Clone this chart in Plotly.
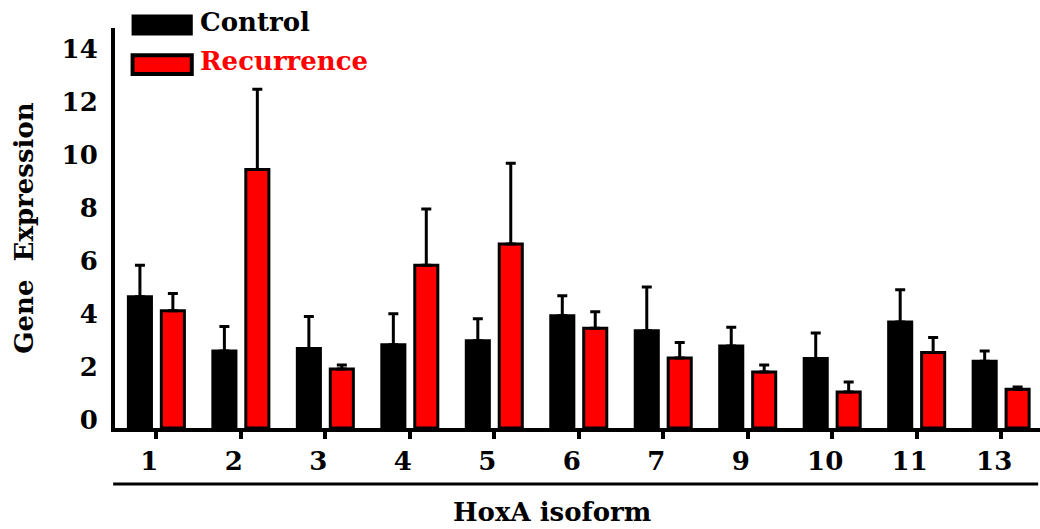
import plotly.graph_objects as go

categories = ["1", "2", "3", "4", "5", "6", "7", "9", "10", "11", "13"]
control = [4.95, 2.91, 3.00, 3.14, 3.29, 4.24, 3.67, 3.10, 2.62, 4.00, 2.52]
control_err = [1.19, 0.92, 1.21, 1.17, 0.83, 0.75, 1.65, 0.70, 0.97, 1.22, 0.39]
recurrence = [4.43, 9.76, 2.23, 6.14, 6.95, 3.77, 2.64, 2.11, 1.36, 2.85, 1.46]
recurrence_err = [0.65, 3.03, 0.15, 2.13, 3.04, 0.62, 0.59, 0.27, 0.38, 0.57, 0.09]
y_ticks = [0, 2, 4, 6, 8, 10, 12, 14]

FONT = "DejaVu Serif"
RED = "#ff0000"

fig = go.Figure()
fig.add_trace(go.Bar(
    x=categories, y=control, name="Control",
    marker=dict(color="black", line=dict(color="black", width=3)),
    error_y=dict(type="data", array=control_err, symmetric=False,
                 arrayminus=[0] * len(control), color="black",
                 thickness=3, width=5),
    showlegend=False,
))
fig.add_trace(go.Bar(
    x=categories, y=recurrence, name="Recurrence",
    marker=dict(color=RED, line=dict(color="black", width=3)),
    error_y=dict(type="data", array=recurrence_err, symmetric=False,
                 arrayminus=[0] * len(recurrence), color="black",
                 thickness=3, width=5),
    showlegend=False,
))

fig.update_layout(
    width=1040, height=529,
    margin=dict(l=115, r=0, t=28, b=101),
    paper_bgcolor="white", plot_bgcolor="white",
    barmode="group", bargap=0.22, bargroupgap=0.3,
    font=dict(family=FONT, size=26, color="black", weight="bold"),
    xaxis=dict(
        type="category", range=[-0.49, 10.46],
        showline=True, linecolor="black", linewidth=4,
        ticks="outside", ticklen=7, tickwidth=4, tickcolor="black",
        showgrid=False, zeroline=False, ticklabelshift=-7,
        tickfont=dict(family=FONT, size=26, color="black", weight="bold"),
    ),
    yaxis=dict(
        range=[0, 15.1], tickvals=y_ticks,
        showline=True, linecolor="black", linewidth=4,
        ticks="", showgrid=False, zeroline=False,
        ticklabelstandoff=8, ticklabelshift=-8,
        tickfont=dict(family=FONT, size=26, color="black", weight="bold"),
        title=dict(text="Gene  Expression", standoff=22,
                   font=dict(family=FONT, size=26, color="black", weight="bold")),
    ),
)

# line under the category labels
fig.add_shape(type="line", xref="paper", yref="paper",
              x0=-0.002, x1=0.998, y0=-0.14, y1=-0.14,
              line=dict(color="black", width=3))
fig.add_annotation(text="HoxA isoform", xref="paper", yref="paper",
                   x=0.472, y=-0.21, xanchor="center", yanchor="middle",
                   showarrow=False,
                   font=dict(family=FONT, size=26, color="black", weight="bold"))

# legend
fig.add_shape(type="rect", xref="paper", yref="paper",
              x0=0.019, x1=0.083, y0=0.984, y1=1.031,
              fillcolor="black", line=dict(color="black", width=2))
fig.add_shape(type="rect", xref="paper", yref="paper",
              x0=0.019, x1=0.083, y0=0.885, y1=0.932,
              fillcolor=RED, line=dict(color="black", width=4))
fig.add_annotation(text="Control", xref="paper", yref="paper",
                   x=0.0897, y=1.015, xanchor="left", yanchor="middle",
                   showarrow=False,
                   font=dict(family=FONT, size=26, color="black", weight="bold"))
fig.add_annotation(text="Recurrence", xref="paper", yref="paper",
                   x=0.0897, y=0.9175, xanchor="left", yanchor="middle",
                   showarrow=False,
                   font=dict(family=FONT, size=26, color=RED, weight="bold"))

fig.write_html("out.html")
